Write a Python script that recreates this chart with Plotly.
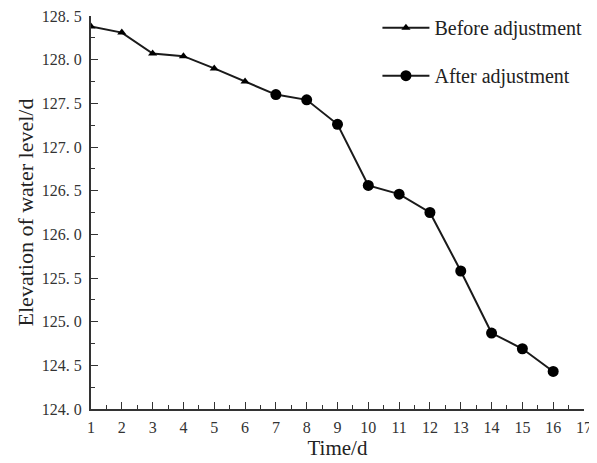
import plotly.graph_objects as go

days_before = [1, 2, 3, 4, 5, 6, 7]
level_before = [128.38, 128.31, 128.07, 128.04, 127.90, 127.75, 127.60]
days_after = [7, 8, 9, 10, 11, 12, 13, 14, 15, 16]
level_after = [127.60, 127.54, 127.26, 126.56, 126.46, 126.25, 125.58, 124.87, 124.69, 124.43]

x_ticks = list(range(1, 18))
y_ticks = [124.0, 124.5, 125.0, 125.5, 126.0, 126.5, 127.0, 127.5, 128.0, 128.5]
y_tick_text = ["124.\u00a00", "124.\u00a05", "125.\u00a00", "125.\u00a05", "126.\u00a00",
               "126.\u00a05", "127.\u00a00", "127.\u00a05", "128.\u00a00", "128.\u00a05"]

serif = "Liberation Serif"

fig = go.Figure()
fig.add_trace(go.Scatter(
    x=days_before, y=level_before, mode="lines+markers", name="Before adjustment",
    legendgroup="b",
    line=dict(color="#1a1a1a", width=2),
    marker=dict(symbol="triangle-up", size=8, color="#000000"),
))
fig.add_trace(go.Scatter(
    x=days_after, y=level_after, mode="lines+markers", name="After adjustment",
    legendgroup="a",
    line=dict(color="#1a1a1a", width=2),
    marker=dict(symbol="circle", size=11, color="#000000"),
))

fig.update_layout(
    width=589, height=455,
    margin=dict(l=83, r=13, t=8, b=54, autoexpand=False),
    paper_bgcolor="white", plot_bgcolor="white",
    font=dict(family=serif, color="#222222"),
    showlegend=True,
    legend=dict(x=0.581, y=1.02, xanchor="left", yanchor="top",
                font=dict(family=serif, size=20, color="#222222"),
                traceorder="grouped", tracegroupgap=19, itemwidth=47,
                bgcolor="rgba(0,0,0,0)"),
    xaxis=dict(range=[1, 17], tickvals=x_ticks, ticks="inside", ticklen=7,
               tickwidth=1, tickcolor="#333333",
               showline=True, linecolor="#333333", linewidth=2,
               showgrid=False, zeroline=False, ticklabelstandoff=3,
               ticklabeloverflow="allow",
               tickfont=dict(family=serif, size=16, color="#333333"),
               minor=dict(dtick=0.5, tick0=1, ticks="inside", ticklen=4, tickcolor="#333333", showgrid=False),
               title=dict(text="Time/d", font=dict(family=serif, size=21, color="#222222"), standoff=1)),
    yaxis=dict(range=[124.0, 128.5], tickvals=y_ticks, ticktext=y_tick_text,
               ticks="inside", ticklen=7, tickwidth=1, tickcolor="#333333",
               showline=True, linecolor="#333333", linewidth=2,
               showgrid=False, zeroline=False, ticklabeloverflow="allow",
               ticklabelstandoff=4,
               tickfont=dict(family=serif, size=16, color="#333333"),
               minor=dict(dtick=0.25, tick0=124.0, ticks="inside", ticklen=4, tickcolor="#333333", showgrid=False),
               title=dict(text="Elevation of water level/d", font=dict(family=serif, size=22, color="#222222"), standoff=2)),
)

fig.write_html("out.html")
